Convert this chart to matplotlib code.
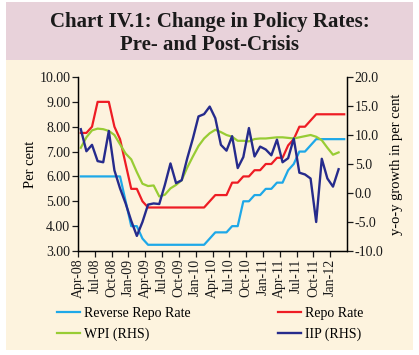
import matplotlib
matplotlib.use("Agg")
import matplotlib.pyplot as plt
from matplotlib.patches import Rectangle
import numpy as np

# monthly data, Apr-08 onwards
reverse_repo = [6.0, 6.0, 6.0, 6.0, 6.0, 6.0, 6.0, 6.0, 5.0, 4.0, 4.0, 3.5,
                3.25, 3.25, 3.25, 3.25, 3.25, 3.25, 3.25, 3.25, 3.25, 3.25, 3.25, 3.5,
                3.75, 3.75, 3.75, 4.0, 4.0, 5.0, 5.0, 5.25, 5.25, 5.5, 5.5, 5.75,
                5.75, 6.25, 6.5, 7.0, 7.0, 7.25, 7.5, 7.5, 7.5, 7.5, 7.5, 7.5]
repo = [7.75, 7.75, 8.0, 9.0, 9.0, 9.0, 8.0, 7.5, 6.5, 5.5, 5.5, 5.0,
        4.75, 4.75, 4.75, 4.75, 4.75, 4.75, 4.75, 4.75, 4.75, 4.75, 4.75, 5.0,
        5.25, 5.25, 5.25, 5.75, 5.75, 6.0, 6.0, 6.25, 6.25, 6.5, 6.5, 6.75,
        6.75, 7.25, 7.5, 8.0, 8.0, 8.25, 8.5, 8.5, 8.5, 8.5, 8.5, 8.5]
wpi = [7.8, 9.6, 10.8, 11.1, 11.0, 10.7, 10.0, 8.4, 6.8, 5.8, 3.6, 1.6,
       1.2, 1.3, -0.6, -0.3, 0.8, 1.4, 2.2, 4.4, 6.3, 8.1, 9.4, 10.3,
       10.9, 10.5, 10.0, 9.7, 9.0, 9.0, 8.9, 9.3, 9.4, 9.4, 9.5, 9.6,
       9.6, 9.5, 9.4, 9.6, 9.8, 10.0, 9.7, 9.1, 7.8, 6.6, 7.0]
iip = [11.0, 7.2, 8.3, 5.5, 5.3, 10.7, 3.9, 0.8, -1.8, -4.8, -7.4, -5.0,
       -2.0, -1.8, -1.9, 1.4, 5.1, 1.7, 2.2, 6.0, 9.4, 13.2, 13.6, 14.9,
       12.9, 8.3, 7.3, 9.8, 4.3, 6.2, 11.2, 6.3, 8.0, 7.5, 6.5, 9.2,
       5.3, 6.0, 9.4, 3.5, 3.2, 2.5, -5.0, 5.9, 2.5, 1.1, 4.1]
tick_labels = ["Apr-08", "Jul-08", "Oct-08", "Jan-09", "Apr-09", "Jul-09",
               "Oct-09", "Jan-10", "Apr-10", "Jul-10", "Oct-10", "Jan-11",
               "Apr-11", "Jul-11", "Oct-11", "Jan-12"]

plt.rcParams['font.family'] = ['Liberation Serif', 'DejaVu Serif']

fig = plt.figure(figsize=(4.19, 3.55), dpi=100)
fig.patch.set_facecolor("white")
# banner and body background
fig.patches.append(Rectangle((6 / 419, 1 - 60 / 355), 407 / 419, 58 / 355,
                             transform=fig.transFigure, facecolor="#E8D2DA",
                             edgecolor="none", zorder=-2))
fig.patches.append(Rectangle((6 / 419, 5 / 355), 407 / 419, 290 / 355,
                             transform=fig.transFigure, facecolor="#FDF3DE",
                             edgecolor="none", zorder=-2))

fig.text(0.5, 1 - 22 / 355, "Chart IV.1: Change in Policy Rates:", ha="center",
         va="center", fontsize=15, fontweight="bold", color="#1a1a1a")
fig.text(0.5, 1 - 45 / 355, "Pre- and Post-Crisis", ha="center",
         va="center", fontsize=15, fontweight="bold", color="#1a1a1a")

ax = fig.add_axes([78 / 419, 1 - 251 / 355, 269 / 419, 174 / 355])
ax.set_facecolor("none")
ax2 = ax.twinx()

x_rates = np.arange(len(repo))
x_infl = np.arange(len(wpi))

l1, = ax.plot(x_rates, reverse_repo, color="#1EA8E8", lw=1.6)
l2, = ax.plot(x_rates, repo, color="#EE1C24", lw=1.6)
l3, = ax2.plot(x_infl, wpi, color="#98CC34", lw=1.6)
l4, = ax2.plot(x_infl, iip, color="#262B8C", lw=1.7)

ax.set_xlim(-0.5, 47.5)
ax.set_ylim(3, 10)
ax2.set_ylim(-10, 20)
ax.set_yticks(np.arange(3, 10.5, 1))
ax.set_yticklabels([f"{v:.2f}" for v in np.arange(3, 10.5, 1)])
ax2.set_yticks(np.arange(-10, 21, 5))
ax2.set_yticklabels([f"{v:.1f}" for v in np.arange(-10, 21, 5)])

tick_pos = np.arange(len(tick_labels)) * 3 - 0.5
ax.set_xticks(tick_pos)
ax.set_xticklabels(tick_labels, rotation=90)

for a in (ax, ax2):
    a.spines["top"].set_visible(False)
    for s in a.spines.values():
        s.set_linewidth(0.9)
    a.tick_params(direction="out", length=4, width=0.9, labelsize=10, pad=1.5,
                  colors="#1a1a1a")

ax.set_ylabel("Per cent", fontsize=10.5, labelpad=2)
ax2.set_ylabel("y-o-y growth in per cent", fontsize=10.5, labelpad=5)

fig.legend([l1, l3, l2, l4],
           ["Reverse Repo Rate", "WPI (RHS)", "Repo Rate", "IIP (RHS)"],
           loc="center left", bbox_to_anchor=(57 / 419, 1 - 324 / 355), ncol=2,
           frameon=False, fontsize=10, handlelength=1.65, handletextpad=0.3,
           borderpad=0, borderaxespad=0, columnspacing=6.3, labelspacing=0.55)

fig.savefig("out.png", dpi=100)
plt.close(fig)
